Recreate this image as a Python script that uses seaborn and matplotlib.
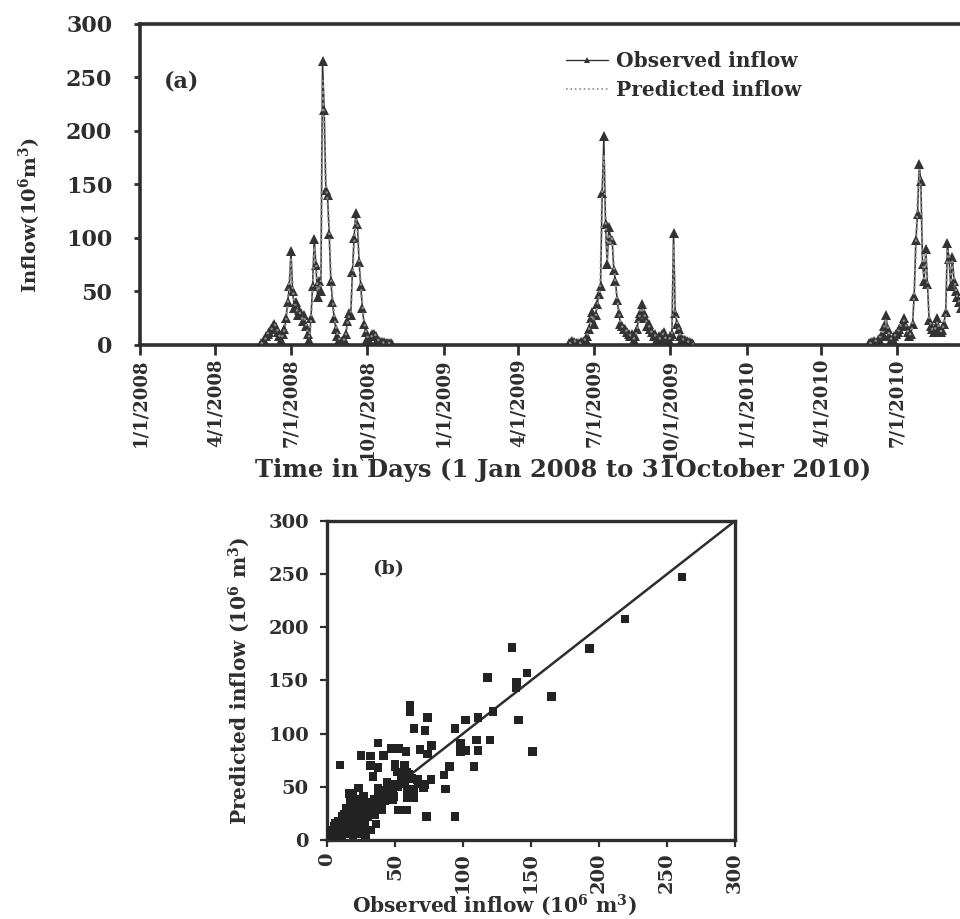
from __future__ import annotations

import matplotlib
matplotlib.use("Agg")
import matplotlib.pyplot as plt
from matplotlib.lines import Line2D
import pandas as pd
import seaborn as sns

# ---------- (a) inflow time series, one reading every 2 days through each monsoon
season_starts = ["2008-05-26", "2009-06-01", "2010-05-29"]

obs_2008 = [2, 3, 5, 8, 10, 12, 15, 18, 20, 17,
            12, 8, 5, 10, 15, 25, 40, 55, 88, 50,
            35, 40, 28, 33, 30, 22, 28, 18, 10, 5,
            25, 55, 99, 75, 45, 60, 50, 265, 220, 145,
            140, 104, 60, 40, 25, 15, 8, 5, 3, 4,
            6, 10, 22, 30, 28, 68, 100, 123, 113, 78,
            55, 35, 20, 12, 6, 5, 8, 10, 10, 8,
            5, 4, 3, 3, 3, 2, 2, 2, 2, 1]
pred_2008 = [1, 3, 4, 7, 11, 13, 14, 17, 19, 18,
             13, 9, 6, 9, 14, 22, 38, 60, 80, 55,
             38, 37, 30, 31, 28, 24, 26, 20, 12, 7,
             22, 50, 92, 80, 50, 57, 55, 247, 207, 150,
             135, 110, 65, 45, 28, 18, 10, 6, 4, 4,
             5, 9, 20, 28, 30, 62, 94, 118, 115, 82,
             58, 38, 23, 14, 8, 6, 7, 9, 11, 9,
             6, 4, 3, 3, 2, 2, 2, 2, 1, 1]

obs_2009 = [2, 3, 4, 3, 2, 2, 2, 3, 3, 4,
            5, 8, 15, 25, 31, 20, 28, 38, 48, 55,
            142, 195, 113, 76, 110, 100, 98, 70, 60, 42,
            30, 20, 18, 15, 15, 12, 10, 8, 10, 5,
            8, 15, 25, 30, 38, 30, 25, 18, 20, 15,
            12, 8, 10, 6, 8, 5, 10, 12, 6, 4,
            5, 8, 10, 105, 30, 20, 15, 8, 6, 5,
            5, 4, 3, 3, 2, 1]
pred_2009 = [2, 2, 4, 4, 3, 2, 2, 2, 3, 4,
             6, 9, 14, 22, 28, 24, 26, 36, 45, 60,
             148, 178, 120, 80, 104, 95, 102, 75, 57, 45,
             32, 22, 17, 16, 14, 13, 11, 9, 9, 6,
             7, 14, 22, 32, 35, 32, 24, 20, 18, 16,
             11, 9, 9, 7, 7, 6, 9, 11, 7, 5,
             5, 7, 11, 93, 33, 22, 16, 9, 7, 5,
             4, 4, 3, 2, 2, 1]

obs_2010 = [2, 3, 3, 4, 3, 5, 6, 8, 10, 18,
            28, 15, 8, 5, 6, 8, 10, 12, 15, 18,
            20, 25, 18, 12, 8, 10, 20, 46, 98, 122,
            169, 153, 76, 60, 90, 57, 23, 18, 15, 12,
            18, 25, 15, 12, 14, 20, 31, 95, 80, 55,
            82, 60, 50, 45, 40, 35]
pred_2010 = [2, 2, 3, 4, 4, 5, 7, 8, 11, 16,
             25, 17, 9, 6, 6, 7, 11, 13, 14, 19,
             22, 23, 19, 13, 9, 11, 18, 50, 90, 133,
             165, 145, 84, 62, 85, 60, 26, 19, 14, 13,
             17, 22, 16, 13, 13, 22, 28, 88, 85, 58,
             78, 63, 52, 44, 41, 36]

tick_dates = ["2008-01-01", "2008-04-01", "2008-07-01", "2008-10-01",
              "2009-01-01", "2009-04-01", "2009-07-01", "2009-10-01",
              "2010-01-01", "2010-04-01", "2010-07-01"]
tick_labels = ["1/1/2008", "4/1/2008", "7/1/2008", "10/1/2008",
               "1/1/2009", "4/1/2009", "7/1/2009", "10/1/2009",
               "1/1/2010", "4/1/2010", "7/1/2010"]
date_span = ["2008-01-01", "2010-10-31"]

# ---------- (b) observed vs predicted scatter
obs_s = [261, 219, 193, 136, 165, 147, 139.5, 139, 141, 151,
         118, 122, 120, 111, 110, 111, 102, 102, 98, 98,
         108, 94, 94, 90, 87, 86, 77, 74, 72, 73,
         68.5, 76.5, 72, 74, 66.5, 61, 61, 64, 58, 57,
         59, 59, 59, 52.5, 64, 64, 53, 50, 52, 56,
         47, 47, 44, 48, 41.5, 37.6, 37.6, 32, 32, 34,
         37.6, 37.6, 40, 39, 43, 25, 9.5, 23, 23, 27,
         29.7, 32, 35, 37.6, 36, 28.4, 16.6, 19, 18, 14,
         11, 22, 19, 71, 67, 39.7, 44, 47.5, 49, 42.6,
         40.6, 33, 28, 23, 19, 13, 15.5, 20, 25, 23,
         18, 10.6, 8, 5.7, 3, 0.7, 2, 5.7, 10.6, 14,
         21.7, 28, 60, 55, 58.6, 50,
         0, 1, 2, 3, 4, 5, 6, 7, 8, 10,
         12, 13, 15, 16, 18, 20, 22, 14, 17, 21,
         11, 9, 6, 3, 19, 24, 26, 30, 28, 22,
         25, 30, 27, 1, 0, 4, 2, 8, 12, 16,
         40, 45, 50, 52, 55, 58, 62, 57, 48, 44,
         42, 35, 38, 30, 33, 46]
pred_s = [247.5, 208, 180, 181, 135, 157, 148, 143, 113, 83,
          153, 121, 94, 115, 94, 84, 113, 84, 91, 83,
          69, 105, 22, 69, 48, 61, 89, 115, 103, 22,
          85, 57, 52, 81, 57, 127, 121, 105, 83, 70,
          48, 40, 28, 28, 48, 40, 86, 69, 64, 56,
          86, 46, 54, 38, 79.5, 91, 68, 79, 70, 59.5,
          49, 43, 40, 44.5, 44.5, 79.5, 70.6, 49, 35, 41,
          30, 9.5, 24, 30, 15, 5, 43.6, 43, 33, 30,
          17.5, 24, 17.5, 49, 53, 41, 48, 49, 41, 36.6,
          28.7, 30, 33, 30, 27, 24, 16, 21, 24, 16,
          11, 11, 17.5, 12.7, 6, 3, 1.6, 1.6, 3, 6,
          6, 11, 62, 56, 63.7, 71,
          0, 2, 5, 1, 8, 3, 10, 5, 12, 7,
          15, 9, 20, 12, 25, 15, 18, 28, 35, 38,
          22, 14, 16, 9, 5, 20, 14, 22, 18, 10,
          32, 35, 25, 0, 3, 4, 2, 8, 11, 17,
          42, 45, 52, 50, 57, 60, 58, 53, 44, 40,
          47, 38, 36, 28, 35, 52]
one_to_one = [0, 300]
axis_ticks = [0, 50, 100, 150, 200, 250, 300]

INK = "#2e2e2e"
OBS_C = "#333333"
PRED_C = "#8c8c8c"


def main():
    sns.set_style("ticks")
    plt.rcParams.update({
        "font.family": ["DejaVu Serif"],
        "font.weight": "bold",
        "axes.labelweight": "bold",
        "mathtext.fontset": "dejavuserif",
        "mathtext.default": "bf",
        "text.color": INK,
        "axes.labelcolor": INK,
        "xtick.color": INK,
        "ytick.color": INK,
        "axes.edgecolor": INK,
    })

    parts = []
    for k, (start, o, p) in enumerate(zip(season_starts,
                                          [obs_2008, obs_2009, obs_2010],
                                          [pred_2008, pred_2009, pred_2010])):
        d = pd.date_range(start, periods=len(o), freq="2D")
        parts.append(pd.DataFrame({"date": d, "observed": o,
                                   "predicted": p, "season": k}))
    ts = pd.concat(parts, ignore_index=True)

    fig = plt.figure(figsize=(9.6, 9.19), dpi=100)

    # --- (a) time series; the axes runs past the right edge like the scan
    ax1 = fig.add_axes([0.1458, 0.6246, 0.8938, 0.3493])
    sns.lineplot(data=ts, x="date", y="observed", units="season",
                 estimator=None, color=OBS_C, lw=1.1, marker="^",
                 markersize=6.5, markeredgewidth=0, legend=False, ax=ax1)
    sns.lineplot(data=ts, x="date", y="predicted", units="season",
                 estimator=None, color=PRED_C, lw=1.6, ls=":",
                 legend=False, ax=ax1, zorder=3)
    ax1.set_xlim(pd.to_datetime(date_span))
    ax1.set_ylim(0, 300)
    ax1.set_yticks(axis_ticks)
    ax1.set_xticks(pd.to_datetime(tick_dates))
    ax1.set_xticklabels(tick_labels, rotation=90, fontsize=13)
    ax1.tick_params(axis="y", labelsize=16, length=4, width=2, pad=16)
    ax1.tick_params(axis="x", length=7, width=2, pad=3)
    for s in ax1.spines.values():
        s.set_linewidth(2.6)
    ax1.set_xlabel("Time in Days (1 Jan 2008 to 31October 2010)", fontsize=17.5)
    ax1.xaxis.set_label_coords(0.493, -0.388)
    ax1.xaxis.label.set_va("center")
    ax1.set_ylabel("Inflow(10$^6$m$^3$)", fontsize=14)
    ax1.yaxis.set_label_coords(-0.128, 0.405)
    ax1.yaxis.label.set_va("center")
    ax1.text(0.028, 0.82, "(a)", transform=ax1.transAxes, fontsize=16,
             va="center", ha="left")
    handles = [Line2D([], [], color=OBS_C, lw=1, marker="^", markersize=5,
                      markeredgewidth=0),
               Line2D([], [], color=PRED_C, lw=1.2, ls=":")]
    ax1.legend(handles, ["Observed inflow", "Predicted inflow"],
               loc="upper left", bbox_to_anchor=(0.4965, 0.915),
               frameon=False, fontsize=14.5, borderpad=0, borderaxespad=0,
               handlelength=2.1, handletextpad=0.4, labelspacing=0.45)

    # --- (b) scatter against the 1:1 line
    ax2 = fig.add_axes([0.3406, 0.0860, 0.425, 0.3471])
    sns.lineplot(x=one_to_one, y=one_to_one, color=INK, lw=1.8, ax=ax2)
    sns.scatterplot(x=obs_s, y=pred_s, marker="s", s=38, color="#222222",
                    edgecolor="none", linewidth=0, ax=ax2, zorder=3)
    ax2.set_xlim(0, 300)
    ax2.set_ylim(0, 300)
    ax2.set_xticks(axis_ticks)
    ax2.set_yticks(axis_ticks)
    ax2.tick_params(axis="x", labelsize=14, length=5, width=1.6,
                    labelrotation=90, pad=4)
    ax2.tick_params(axis="y", labelsize=14, length=5, width=1.6, pad=8)
    for s in ax2.spines.values():
        s.set_linewidth(2.4)
    ax2.set_xlabel("Observed inflow (10$^6$ m$^3$)", fontsize=14.5)
    ax2.xaxis.set_label_coords(0.41, -0.204)
    ax2.xaxis.label.set_va("center")
    ax2.set_ylabel("Predicted inflow (10$^6$ m$^3$)", fontsize=14.5)
    ax2.yaxis.set_label_coords(-0.215, 0.5)
    ax2.yaxis.label.set_va("center")
    ax2.text(45, 255, "(b)", fontsize=14, ha="center", va="center")

    fig.savefig("out.png", dpi=100)
    plt.close(fig)


if __name__ == "__main__":
    main()
